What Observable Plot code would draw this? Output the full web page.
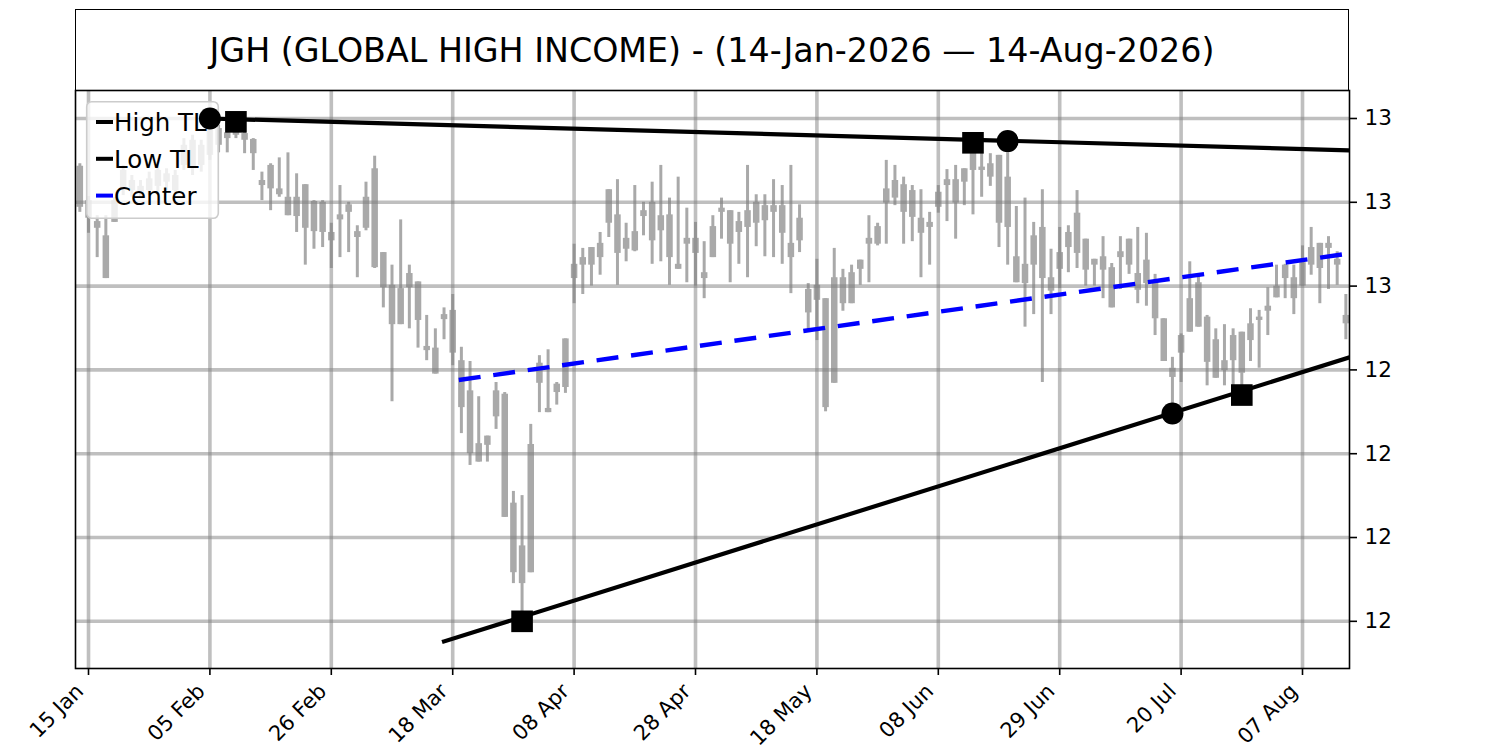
<!DOCTYPE html>
<html>
<head>
<meta charset="utf-8">
<script src="https://cdn.jsdelivr.net/npm/d3@7"></script>
<script src="https://cdn.jsdelivr.net/npm/@observablehq/plot@0.6"></script>
<style>
html,body{margin:0;padding:0;background:#fff;}
#wrap{position:relative;width:1500px;height:750px;overflow:hidden;font-family:"DejaVu Sans",sans-serif;}
#chart{position:absolute;left:0;top:0;}
#title{position:absolute;left:75px;top:9px;width:1274px;height:82px;box-sizing:border-box;border:1.6px solid #000;display:flex;align-items:center;justify-content:center;font-size:33.3px;color:#000;white-space:nowrap;}
</style>
</head>
<body>
<div id="wrap"><div id="chart"></div><div id="title"></div></div>
<script>
const titleText = "JGH (GLOBAL HIGH INCOME) - (14-Jan-2026 — 14-Aug-2026)";
const xTickIndex = [1, 15, 29, 43, 57, 71, 85, 99, 113, 127, 141];
const xTickLabels = ["15 Jan", "05 Feb", "26 Feb", "18 Mar", "08 Apr", "28 Apr", "18 May", "08 Jun", "29 Jun", "20 Jul", "07 Aug"];
const yTicks = [12.2, 12.3, 12.4, 12.5, 12.6, 12.7, 12.8];
const yTickLabels = ["12", "12", "12", "12", "13", "13", "13"];

// daily candles, 14-Jan-2026 .. 14-Aug-2026 (trading days)
const highP = [
12.746,12.707,12.684,12.684,12.706,12.744,12.732,12.726,12.736,12.743,
12.740,12.738,12.776,12.780,12.774,12.800,12.792,12.788,12.796,12.786,
12.776,12.736,12.746,12.753,12.759,12.734,12.721,12.702,12.702,12.675,
12.720,12.700,12.672,12.724,12.755,12.640,12.625,12.679,12.625,12.605,
12.565,12.549,12.574,12.590,12.527,12.510,12.468,12.421,12.485,12.473,
12.355,12.350,12.435,12.517,12.524,12.485,12.537,12.650,12.645,12.646,
12.664,12.715,12.727,12.675,12.720,12.700,12.724,12.744,12.705,12.730,
12.693,12.676,12.653,12.684,12.705,12.690,12.688,12.744,12.709,12.709,
12.727,12.720,12.744,12.697,12.603,12.632,12.585,12.645,12.620,12.625,
12.631,12.684,12.675,12.750,12.744,12.730,12.720,12.715,12.688,12.720,
12.739,12.744,12.740,12.764,12.759,12.758,12.756,12.768,12.695,12.705,
12.676,12.715,12.644,12.670,12.672,12.714,12.656,12.632,12.659,12.627,
12.659,12.656,12.670,12.663,12.614,12.561,12.515,12.543,12.629,12.614,
12.565,12.549,12.554,12.549,12.545,12.573,12.571,12.598,12.625,12.626,
12.625,12.648,12.670,12.651,12.659,12.641,12.590];
const openP = [
12.743,12.702,12.677,12.660,12.702,12.738,12.726,12.719,12.728,12.738,
12.734,12.732,12.768,12.774,12.768,12.786,12.788,12.783,12.793,12.782,
12.775,12.726,12.744,12.716,12.706,12.706,12.721,12.701,12.700,12.664,
12.685,12.697,12.665,12.706,12.740,12.640,12.601,12.597,12.615,12.605,
12.528,12.526,12.566,12.571,12.511,12.475,12.412,12.421,12.475,12.471,
12.341,12.290,12.411,12.508,12.454,12.483,12.537,12.626,12.634,12.646,
12.651,12.715,12.685,12.657,12.665,12.690,12.700,12.684,12.685,12.626,
12.657,12.657,12.616,12.671,12.693,12.690,12.677,12.690,12.700,12.696,
12.696,12.696,12.651,12.681,12.596,12.601,12.585,12.610,12.610,12.616,
12.631,12.657,12.671,12.716,12.726,12.721,12.714,12.681,12.676,12.712,
12.727,12.727,12.740,12.759,12.742,12.746,12.756,12.730,12.635,12.626,
12.660,12.670,12.610,12.640,12.664,12.687,12.656,12.632,12.635,12.622,
12.641,12.656,12.615,12.631,12.604,12.561,12.502,12.541,12.585,12.604,
12.563,12.536,12.511,12.541,12.545,12.555,12.563,12.576,12.600,12.625,
12.610,12.628,12.646,12.651,12.651,12.632,12.565];
const closeP = [
12.694,12.681,12.669,12.609,12.676,12.716,12.714,12.712,12.714,12.719,
12.724,12.714,12.744,12.740,12.744,12.756,12.768,12.776,12.780,12.774,
12.758,12.720,12.716,12.709,12.684,12.683,12.669,12.665,12.664,12.654,
12.679,12.688,12.658,12.669,12.622,12.598,12.554,12.554,12.598,12.559,
12.523,12.495,12.560,12.520,12.455,12.400,12.390,12.410,12.444,12.324,
12.258,12.245,12.258,12.484,12.449,12.473,12.479,12.609,12.625,12.625,
12.634,12.675,12.639,12.644,12.642,12.683,12.654,12.666,12.634,12.620,
12.650,12.639,12.609,12.634,12.688,12.650,12.664,12.670,12.675,12.678,
12.688,12.663,12.634,12.654,12.568,12.583,12.455,12.484,12.579,12.579,
12.620,12.650,12.650,12.699,12.705,12.688,12.682,12.663,12.670,12.694,
12.720,12.699,12.724,12.738,12.738,12.730,12.675,12.670,12.604,12.603,
12.625,12.609,12.594,12.620,12.646,12.639,12.619,12.625,12.619,12.574,
12.634,12.625,12.595,12.603,12.561,12.510,12.491,12.520,12.545,12.551,
12.509,12.490,12.499,12.511,12.496,12.535,12.559,12.570,12.586,12.609,
12.585,12.600,12.625,12.621,12.645,12.625,12.555];
const lowP = [
12.688,12.663,12.634,12.609,12.676,12.708,12.706,12.705,12.708,12.712,
12.714,12.708,12.738,12.732,12.736,12.750,12.759,12.759,12.776,12.758,
12.738,12.702,12.690,12.706,12.684,12.664,12.625,12.644,12.646,12.621,
12.634,12.640,12.610,12.666,12.621,12.574,12.462,12.554,12.549,12.526,
12.511,12.495,12.536,12.505,12.424,12.386,12.390,12.390,12.429,12.324,
12.245,12.211,12.258,12.449,12.449,12.458,12.472,12.579,12.590,12.600,
12.613,12.658,12.601,12.629,12.641,12.660,12.626,12.629,12.601,12.620,
12.604,12.600,12.585,12.634,12.656,12.604,12.626,12.610,12.647,12.635,
12.634,12.626,12.591,12.640,12.545,12.535,12.450,12.484,12.570,12.579,
12.601,12.604,12.648,12.650,12.696,12.650,12.653,12.610,12.625,12.687,
12.677,12.656,12.696,12.685,12.706,12.719,12.646,12.625,12.604,12.551,
12.566,12.485,12.566,12.597,12.616,12.621,12.600,12.600,12.585,12.574,
12.596,12.614,12.579,12.576,12.541,12.510,12.458,12.485,12.545,12.551,
12.481,12.490,12.481,12.474,12.478,12.510,12.502,12.541,12.586,12.585,
12.566,12.600,12.613,12.579,12.596,12.601,12.536];

// trend lines (index, price)
const highTLx = [15, 146.42], highTLy = [12.800, 12.762];
const lowTLx = [42, 146.42], lowTLy = [12.176, 12.515];
const centerX = [43.7, 146.42], centerY = [12.488, 12.639];
// pivots
const pivotCircleX = [15, 107, 126], pivotCircleY = [12.800, 12.773, 12.448];
const pivotSquareX = [18, 103, 51, 134], pivotSquareY = [12.796, 12.771, 12.200, 12.470];

const legendNames = ["High TL", "Low TL", "Center"];
const legendColors = ["#000000", "#000000", "#0000ff"];

document.getElementById("title").textContent = titleText;

const idx = d3.range(highP.length);
const two = [0, 1];
const candleColor = "#a9a9a9";

const chart = Plot.plot({
  width: 1500,
  height: 750,
  marginTop: 90,
  marginBottom: 82,
  marginLeft: 75,
  marginRight: 151,
  style: {fontFamily: "DejaVu Sans, sans-serif", background: "#fff", color: "#000"},
  x: {type: "linear", domain: [-0.5, 146.42]},
  y: {type: "linear", domain: [12.1437, 12.8334]},
  marks: [
    Plot.ruleX(idx, {x: i => i, y1: i => lowP[i], y2: i => highP[i], stroke: candleColor, strokeWidth: 3}),
    Plot.ruleX(idx, {x: i => i, y1: i => openP[i], y2: i => closeP[i], stroke: candleColor, strokeWidth: 6.5}),
    Plot.ruleX(xTickIndex, {x: d => d, stroke: "#808080", strokeOpacity: 0.5, strokeWidth: 3.6}),
    Plot.ruleY(yTicks, {y: d => d, stroke: "#808080", strokeOpacity: 0.5, strokeWidth: 3.6}),
    Plot.line(two, {x: i => highTLx[i], y: i => highTLy[i], stroke: "#000", strokeWidth: 4.2, strokeLinecap: "square", clip: true}),
    Plot.line(two, {x: i => lowTLx[i], y: i => lowTLy[i], stroke: "#000", strokeWidth: 4.2, strokeLinecap: "square", clip: true}),
    Plot.line(two, {x: i => centerX[i], y: i => centerY[i], stroke: "#0000ff", strokeWidth: 4.4, strokeDasharray: "22,12.8", strokeLinecap: "butt", clip: true}),
    Plot.dot(d3.range(pivotCircleX.length), {x: i => pivotCircleX[i], y: i => pivotCircleY[i], r: 11, fill: "#000", stroke: "none", symbol: "circle"}),
    Plot.dot(d3.range(pivotSquareX.length), {x: i => pivotSquareX[i], y: i => pivotSquareY[i], r: 12.2, fill: "#000", stroke: "none", symbol: "square"}),
    Plot.frame({stroke: "#000", strokeWidth: 1.6}),
    // x tick marks
    Plot.axisX(xTickIndex, {
      anchor: "bottom",
      tickSize: 7,
      tickFormat: () => "",
      strokeWidth: 1.6
    }),
    // x tick labels (rotated, right-aligned to the tick)
    Plot.axisX(xTickIndex, {
      anchor: "bottom",
      tickFormat: d => xTickLabels[xTickIndex.indexOf(d)],
      tickRotate: -45,
      tickSize: 0,
      tickPadding: 19.2,
      dx: -8.5,
      fontSize: 21
    }),
    Plot.axisY(yTicks, {
      anchor: "right",
      tickFormat: d => yTickLabels[yTicks.indexOf(d)],
      tickSize: 7,
      tickPadding: 8,
      fontSize: 21.5,
      strokeWidth: 1.6
    })
  ]
});
document.getElementById("chart").append(chart);

// legend (drawn under the pivot markers, like the original)
const ns = "http://www.w3.org/2000/svg";
const firstDot = chart.querySelector('g[aria-label="dot"]');
const lg = document.createElementNS(ns, "g");
chart.insertBefore(lg, firstDot);
const L = d3.select(lg);
L.append("rect").attr("x", 86.7).attr("y", 101.7).attr("width", 131.6).attr("height", 116.6)
  .attr("rx", 5).attr("fill", "#fff").attr("fill-opacity", 0.8)
  .attr("stroke", "#cccccc").attr("stroke-width", 1.6);
legendNames.forEach((name, k) => {
  const cy = 122 + k * 36.8;
  L.append("line").attr("x1", 96).attr("x2", 113).attr("y1", cy).attr("y2", cy)
    .attr("stroke", legendColors[k]).attr("stroke-width", 4);
  L.append("text").attr("x", 114).attr("y", cy + 8.9).attr("font-size", 24.5)
    .attr("text-anchor", "start")
    .attr("font-family", "DejaVu Sans, sans-serif").attr("fill", "#000").text(name);
});
</script>
</body>
</html>
